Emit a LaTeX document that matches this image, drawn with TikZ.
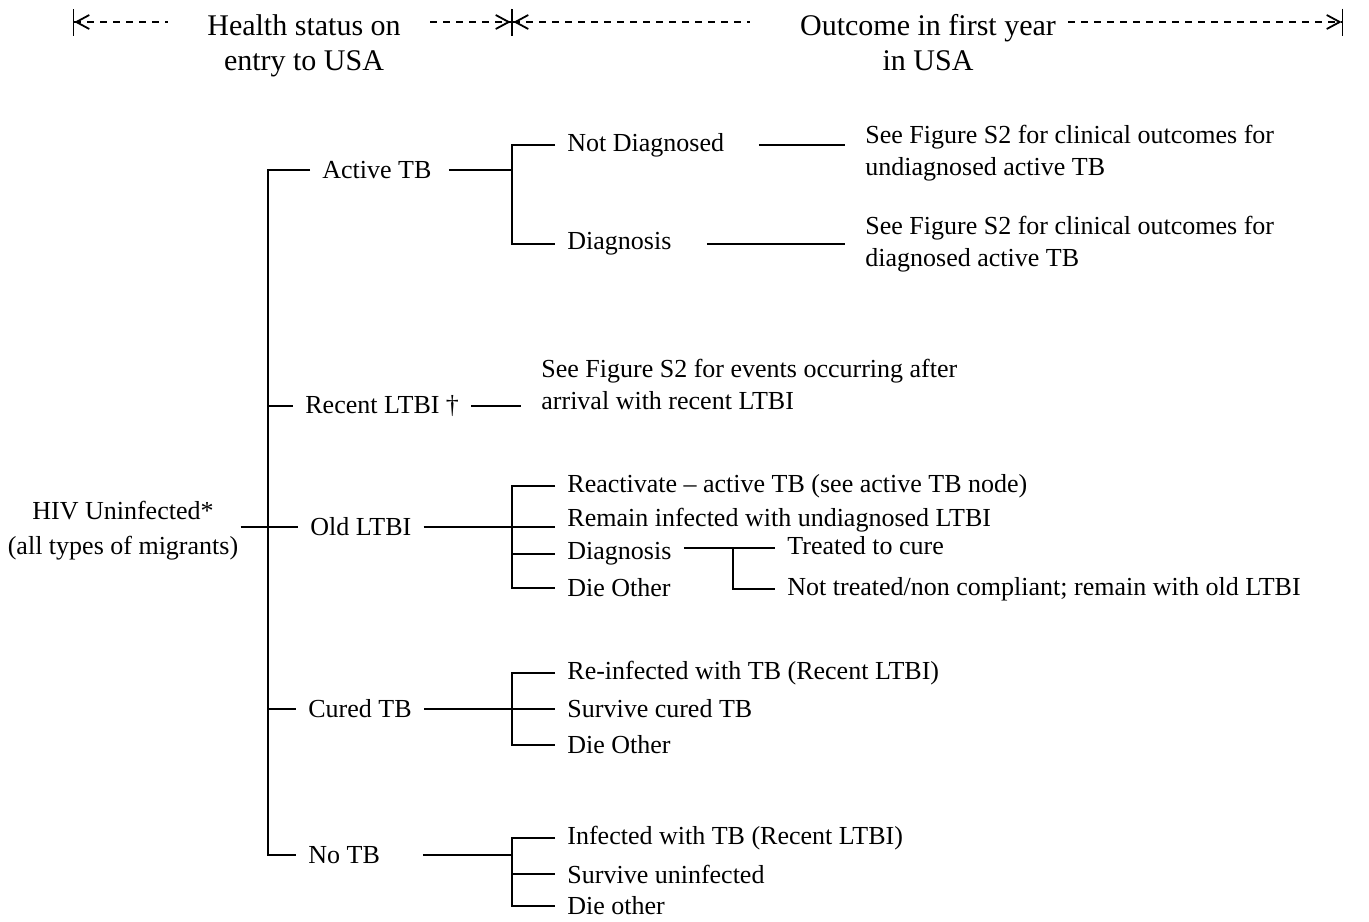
\documentclass[tikz,border=0pt]{standalone}
\usepackage{fontspec}
\setmainfont{Liberation Serif}
\usetikzlibrary{arrows.meta}
\begin{document}
\begin{tikzpicture}[x=0.5pt, y=-0.5pt,
  hdr/.style={font=\fontsize{15}{17.5}\selectfont, align=center, inner sep=0pt},
  root/.style={font=\fontsize{13}{17.5}\selectfont, align=center, inner xsep=1pt},
  st/.style={font=\fontsize{13}{16}\selectfont, anchor=west, align=flush left,
             inner xsep=6pt, inner ysep=2pt},
  note/.style={font=\fontsize{13}{16}\selectfont, anchor=west, align=left,
               inner xsep=10pt},
  ln/.style={line width=0.9pt},
  dsh/.style={line width=0.7pt, dash pattern=on 3.5pt off 3pt},
  lend/.style={{Bar[width=13.5pt]Straight Barb[length=6.5pt,width=7pt,line width=0.9pt]}-},
  rend/.style={-{Straight Barb[length=6.5pt,width=7pt,line width=0.9pt]Bar[width=13.5pt]}}
]
\useasboundingbox (0,0) rectangle (1369,921);
\node[hdr] (hs) at (304,46) {Health status on\\entry to USA};
\node[hdr] (oc) at (928,43) {Outcome in first year\\in USA};
\coordinate (h0) at (73,22);
\coordinate (h1) at (168,22);
\coordinate (h2) at (430,22);
\coordinate (h3) at (512,22);
\coordinate (h4) at (750,22);
\coordinate (h5) at (1068,22);
\coordinate (h6) at (1343,22);
\draw[dsh, lend] (h0) -- (h1);
\draw[dsh, rend] (h2) -- (h3);
\draw[dsh, lend] (h3) -- (h4);
\draw[dsh, rend] (h5) -- (h6);

\node[root] (root) at (123,531) {HIV Uninfected*\\(all types of migrants)};
\node[st, text width=57pt] (act) at (310,170) {Active TB};
\node[st]                  (rec) at (293,406) {Recent LTBI †};
\node[st]                  (old) at (298,527) {Old LTBI};
\node[st]                  (cur) at (296,709) {Cured TB};
\node[st, text width=51pt] (notb) at (296,855) {No TB};
\coordinate (tk) at (268,527);
\draw[ln] (old.west -| root.east) -- (old);
\draw[ln] (act.west) -| (tk) |- (notb.west);
\draw[ln] (tk) |- (rec.west);
\draw[ln] (tk) |- (cur.west);

\coordinate (ja) at (512,170);
\node[st, text width=89.5pt] (ndg) at (555,145) {Not Diagnosed};
\node[st, text width=63.5pt] (dgn) at (555,244) {Diagnosis};
\node[note] (ndgn) at (845,153) {See Figure S2 for clinical outcomes for\\undiagnosed active TB};
\node[note] (dgnn) at (845,244) {See Figure S2 for clinical outcomes for\\diagnosed active TB};
\draw[ln] (act) -- (ja);
\draw[ln] (ndg.west) -| (ja) |- (dgn.west);
\draw[ln] (ndg.east) -- (ndg.east -| ndgn.west);
\draw[ln] (dgn.east) -- (dgn.east -| dgnn.west);

\node[note] (recn) at (521,384) {See Figure S2 for events occurring after\\arrival with recent LTBI};
\draw[ln] (rec.east) -- (rec.east -| recn.west);

\coordinate (jo) at (512,527);
\node[st] (rea) at (555,486) {Reactivate -- active TB (see active TB node)};
\node[st] (rem) at (555,520) {Remain infected with undiagnosed LTBI};
\node[st] (dia) at (555,554) {Diagnosis};
\node[st] (dio) at (555,588) {Die Other};
\draw[ln] (old) -- (jo);
\draw[ln] (rea.west) -| (jo) |- (dio.west);
\draw[ln] (jo) -- (jo -| rem.west);
\draw[ln] (jo) |- (dia.west);

\coordinate (jd) at (733,548);
\node[st] (trt) at (775,546) {Treated to cure};
\node[st] (ntr) at (775,589) {Not treated/non compliant; remain with old LTBI};
\draw[ln] (jd -| dia.east) -- (jd -| trt.west);
\draw[ln] (jd) |- (ntr.west);

\coordinate (jc) at (512,709);
\node[st] (rei) at (555,673) {Re-infected with TB (Recent LTBI)};
\node[st] (scu) at (555,709) {Survive cured TB};
\node[st] (dcu) at (555,745) {Die Other};
\draw[ln] (cur) -- (jc);
\draw[ln] (rei.west) -| (jc) |- (dcu.west);
\draw[ln] (jc) -- (scu.west);

\coordinate (jn) at (512,855);
\node[st] (inf) at (555,838) {Infected with TB (Recent LTBI)};
\node[st] (suv) at (555,874) {Survive uninfected};
\node[st] (dno) at (555,906) {Die other};
\draw[ln] (notb) -- (jn);
\draw[ln] (inf.west) -| (jn) |- (dno.west);
\draw[ln] (jn) |- (suv.west);
\end{tikzpicture}
\end{document}
